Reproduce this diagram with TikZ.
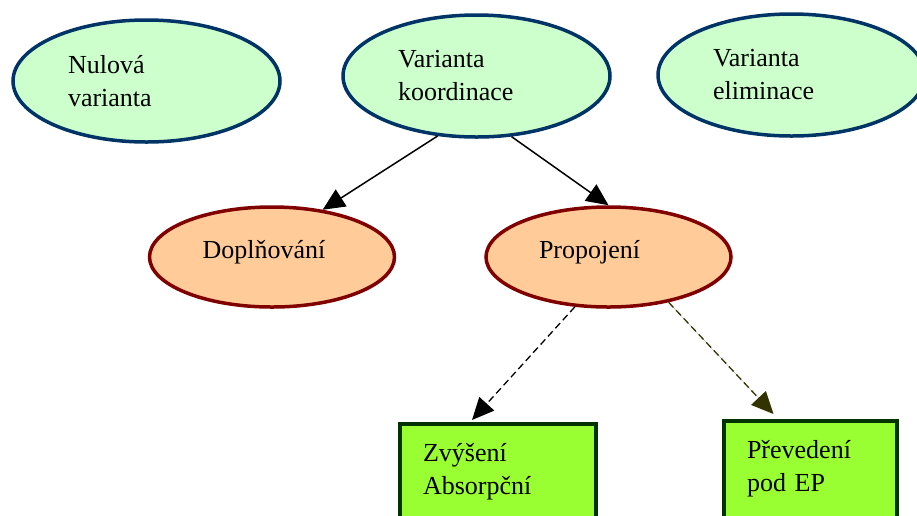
\documentclass[tikz,border=0pt]{standalone}
\usepackage{fontspec}
\setmainfont{Liberation Serif}
\usepackage{tikz}
\usetikzlibrary{shapes, arrows.meta, calc}

\definecolor{variantfill}{RGB}{204,255,204}
\definecolor{variantline}{RGB}{0,51,102}
\definecolor{wayfill}{RGB}{255,204,153}
\definecolor{wayline}{RGB}{128,0,0}
\definecolor{stepfill}{RGB}{153,255,51}
\definecolor{stepline}{RGB}{0,51,0}
\definecolor{oliveline}{RGB}{51,51,0}

\begin{document}
\begin{tikzpicture}[x=1pt, y=-1pt,
		every node/.style = {font=\fontsize{26}{33}\selectfont, inner sep=0pt},
		variant/.style = {ellipse, draw=variantline, fill=variantfill, line width=3.5pt,
			minimum width=267pt, minimum height=122pt, text width=157pt, align=left},
		way/.style = {ellipse, draw=wayline, fill=wayfill, line width=3.5pt,
			minimum width=245pt, minimum height=100pt, text width=139pt, align=left,
			text height=18pt, text depth=16pt},
		stepbox/.style = {rectangle, draw=stepline, fill=stepfill, line width=3.5pt,
			anchor=north, inner xsep=23pt, inner ysep=20pt, align=left},
		solidarrow/.style = {line width=1.5pt, -{Triangle[length=22pt,width=20pt]}},
		dasharrow/.style = {line width=1.3pt, dash pattern=on 7pt off 4pt,
			-{Triangle[length=22pt,width=20pt]}}]
	\useasboundingbox (0,0) rectangle (917,515);
	\begin{scope}
		\clip (0,0) rectangle (917,515);

		% varianty
		\node[variant] (nulova) at (146.5,81) {Nulová\\varianta};
		\node[variant] (koord) at (476.5,76) {Varianta\\koordinace};
		\node[variant] (elim) at (791.5,75) {Varianta\\eliminace};

		% zpusoby koordinace
		\node[way] (dopl) at (272,257) {Doplňování};
		\node[way] (prop) at (608.5,257) {Propojení};

		% kroky
		\node[stepbox, text width=150pt] (zvys) at (498,422) {Zvýšení\\Absorpční};
		\node[stepbox, text width=127pt] (prev) at (810.5,419) {Převedení\\pod EP};

		\draw[solidarrow] (koord.237) -- (dopl.43);
		\draw[solidarrow] (koord.300) -- (prop.north);
		\draw[dasharrow] (prop.236) -- ([xshift=-26pt, yshift=2pt]zvys.north);
		\draw[dasharrow, draw=oliveline, fill=oliveline] (prop.323) -- ([xshift=-37pt, yshift=5pt]prev.north);
	\end{scope}
\end{tikzpicture}
\end{document}
